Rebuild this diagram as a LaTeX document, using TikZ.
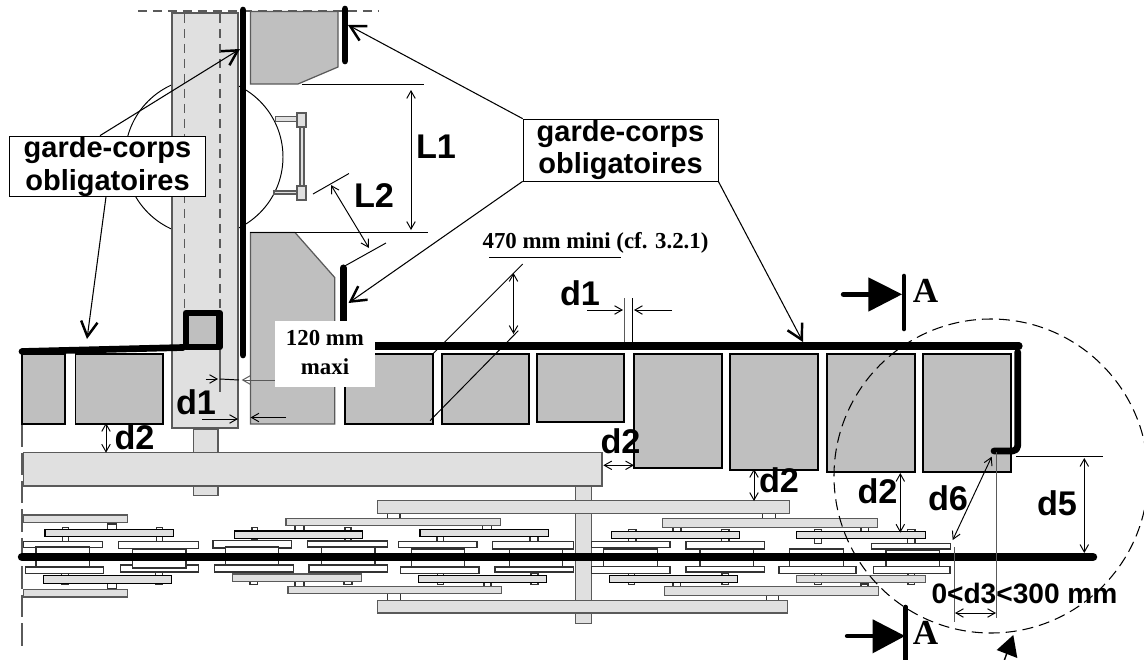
\documentclass[tikz,border=0pt]{standalone}
\usepackage{fontspec}
\setmainfont{Liberation Sans}
\newfontfamily\timesbold[BoldFont={Liberation Serif Bold}]{Liberation Serif}
\usepackage{xcolor}
\usetikzlibrary{arrows.meta,positioning}
\definecolor{blocgris}{HTML}{BFBFBF}
\definecolor{clairgris}{HTML}{E0E0E0}
\definecolor{traitgris}{HTML}{5A5A5A}
\tikzset{
    bloc/.style={draw=black, line width=1.1pt, fill=blocgris},
    quai/.style={draw=traitgris, line width=0.7pt, fill=blocgris},
    plateau/.style={draw=traitgris, line width=0.8pt, fill=clairgris},
    plateaunoir/.style={draw=black, line width=0.7pt, fill=clairgris},
    blanc/.style={draw=black!80, line width=0.7pt, fill=white},
    garde/.style={line width=3.8pt, line cap=round, line join=round},
    cote/.style={line width=0.55pt, <->},
    repere/.style={line width=0.55pt},
    renvoi/.style={line width=0.6pt, -{Straight Barb[length=3mm,width=3.3mm,line width=1.4pt]}},
    pointille/.style={dash pattern=on 0.18cm off 0.12cm},
    grand/.style={font=\fontsize{19.5}{22}\selectfont\bfseries, inner sep=0pt},
    cadre/.style={
        draw,
        fill=white,
        inner sep=0pt,
        align=center,
        font=\fontsize{16.5}{18.7}\selectfont\bfseries
    },
    serif/.style={font=\fontsize{13}{16.4}\timesbold\bfseries, inner sep=0pt, align=center},
    lettre/.style={font=\fontsize{20}{22}\timesbold\bfseries, inner sep=0pt}
}

\begin{document}
\begin{tikzpicture}[x=0.02cm, y=-0.02cm, >={Straight Barb[length=1.5mm,width=1.7mm]}]
    \clip (0,0) rectangle (1144,660);

    \draw[line width=0.55pt] (204,157) circle (79);
    \draw[traitgris, line width=0.7pt, pointille] (138,11) -- (378,11);
    \draw[traitgris, line width=0.8pt, dash pattern=on 0.45cm off 0.12cm] (22,424) -- (22,650);

    \draw[plateau] (172,13) rectangle (238,428);
    \draw[traitgris, line width=0.7pt, pointille] (184.5,14) -- (184.5,312);
    \draw[traitgris, line width=0.7pt, pointille] (220,14) -- (220,312);
    \draw[traitgris, line width=0.7pt] (220,349) -- (220,392);

    \draw[quai] (250.5,11.5) -- (338,11.5) -- (338,67) -- (298,84) -- (250.5,84) -- cycle;
    \draw[quai] (250.5,232.5) -- (295,232.5) -- (334.7,277.5) -- (334.7,424) -- (250.5,424) -- cycle;

    \draw[plateau, line width=0.6pt] (275.5,116.5) rectangle (297,121.5);
    \draw[plateau, line width=0.6pt] (274,191) rectangle (297,194);
    \draw[plateau, line width=0.6pt] (300,127) rectangle (304,186);
    \draw[plateau, line width=0.6pt] (297,113) rectangle (306,127);
    \draw[plateau, line width=0.6pt] (297,186) rectangle (306,200);

    \foreach \xa/\ya/\xb/\yb in {
        22/354/65/424, 75.5/354/163/424, 345/354/432.7/424, 441.7/354/528.7/424,
        537.3/354/624/422, 634/354/722/468.3, 730/354/818.3/470,
        827.3/354/914.7/472, 923.3/354/1010.7/472
    }
        \draw[bloc] (\xa,\ya) rectangle (\xb,\yb);

    \draw[plateau] (193.5,429.5) rectangle (218,495.5);
    \draw[plateau] (23.5,452.7) rectangle (602,486);

    \draw[plateau] (575.3,486) rectangle (591.7,623.5);

    \foreach \xa/\ya/\xb/\yb in {
        107.5/524/116.5/530, 62.5/527.5/68.5/542, 156.5/527.5/162.5/542,
        61.5/572/68.5/584.5, 155.5/572/162.5/584.5, 107.5/581.3/116.5/589,
        387.7/513/400/519, 295/525/304/531, 482.7/525/491.7/531,
        252/527.5/257.5/540, 345/527.5/351/541,
        437/536/443.7/542, 530/536/538/542,
        250/572/257.5/584.5, 344/572/352/584.5, 295/581/304/587,
        437.3/573/443.7/584.7, 531/573/538/584.7, 484/582/491/587, 387.7/593/400.3/601,
        762.7/513/775.7/519, 673/527/681/532, 861/527/868.7/532,
        628.7/529.5/636/541.7, 721.7/529.5/729/541.7,
        814.3/529.5/821.7/543.3, 907.7/529.5/915/543.3,
        628.7/573.7/634.7/584.7, 722/573.7/728.7/584.7,
        814.3/573.7/821.7/584.7, 908/573.7/914.7/584.7,
        673/581.5/680.7/587, 861/584/868/587, 766.3/595/778.7/601
    }
        \draw[blanc] (\xa,\ya) rectangle (\xb,\yb);

    \foreach \xa/\ya/\xb/\yb in {
        23.5/541.5/102.3/547.5, 118.3/541.5/198.7/548.5, 25.3/567/103.7/573.7, 120.3/565/198.7/572,
        213/540.7/291.3/548, 307.3/541/387.7/547, 214.7/565/293.3/572, 309/565/387.7/572,
        398.7/541.7/477/547.3, 492.7/541.7/573.3/549, 400.3/567/479/573.3, 495/567/573.3/572,
        591.7/541.7/670/547.7, 686/541.7/764.7/549, 871.7/543.3/950.3/549,
        591.7/566.7/670/573.7, 686/566.7/764.7/572, 779/566.7/856/573.7, 873.3/566.7/950/573.7,
        36/547/89.5/566.7, 132.7/549/186/568, 225.3/547/278.7/565, 321.7/547/375/565,
        411.3/549/464.7/566.7, 509.3/549/562.7/566.7,
        603.7/549/657.3/566.7, 700/549/753.7/566.7, 789.3/549/843.3/566.7, 886/550.7/939.7/566.7
    }
        \draw[blanc] (\xa,\ya) rectangle (\xb,\yb);

    \foreach \xa/\ya/\xb/\yb in {
        45/529.5/173.7/536.5, 420/529.3/548.7/536.7, 611.3/531.3/739.3/538.3, 796.7/531.3/925.3/538.3,
        43.3/575.5/171.7/583.7, 234.3/531/362.7/538.3, 418.3/575.3/546.7/582.7, 609.3/575.3/737.3/582.7
    }
        \draw[plateaunoir] (\xa,\ya) rectangle (\xb,\yb);

    \foreach \xa/\ya/\xb/\yb in {
        23.5/515/127.3/522.5, 23.5/589.5/127.3/597, 286/518.5/500.7/525.5, 288/586.5/501.7/593.3,
        232.3/574/361.3/581.3, 796.7/575.3/925.3/582.7,
        662.7/518.7/877.3/527.3, 664.7/586.5/878.7/595.3,
        377.3/500.7/789.3/513.5, 377.3/600.7/787.3/613
    }
        \draw[plateau] (\xa,\ya) rectangle (\xb,\yb);

    \draw[line width=4.8pt, line cap=round] (22,557) -- (1093,557);

    \draw[garde] (243,10) -- (243,355);
    \draw[garde] (345,9) -- (345,61);
    \draw[garde, line width=4pt] (343.3,268) -- (343.3,330);
    \draw[garde] (22,351.5) -- (183,347.5);
    \draw[quai, draw=black, line width=3.9pt, line join=round] (186,313) rectangle (219.5,347);
    \draw[garde, line width=4.1pt] (375,346) -- (1019,346);
    \draw[garde, rounded corners=0.1cm] (1017.7,352) -- (1017.7,451) -- (994,451);

    \draw[repere] (302,84.5) -- (424,84.5);
    \draw[repere] (250,232) -- (428,232);
    \draw[cote] (411,90) -- (411,230);
    \draw[repere] (313,194) -- (349,173.5);
    \draw[repere] (343,267) -- (386,243);
    \draw[cote] (331,185) -- (369,248);

    \draw[repere] (489,257.3) -- (620.7,257.3);
    \draw[repere] (431.7,355) -- (522.7,264);
    \draw[repere] (430,420.7) -- (518.3,330.7);
    \draw[cote] (513.5,273) -- (513.5,334);

    \draw[traitgris, repere] (624,298) -- (624,342);
    \draw[repere] (632.3,298) -- (632.3,342);
    \draw[repere, ->] (587.3,310) -- (623,310);
    \draw[repere, ->] (672,310) -- (634,310);

    \draw[repere, ->] (205.7,379) -- (218,379);
    \draw[repere] (220,379) -- (239,380);
    \draw[traitgris, repere, ->] (280,380) -- (241.7,380);
    \draw[repere, ->] (202,419) -- (238,419);
    \draw[repere, ->] (286,417.5) -- (250.5,417.5);

    \draw[cote] (106,423) -- (106,452.7);
    \draw[cote] (603.3,465.3) -- (634,465.3);
    \draw[cote] (754,469) -- (754,501);
    \draw[cote] (900.3,473) -- (900.3,532.7);
    \draw[cote] (991.7,456.7) -- (952.7,540);
    \draw[cote] (1084.3,458) -- (1084.3,553);
    \draw[repere] (1016,456.3) -- (1103,456.3);
    \draw[traitgris, repere] (996.3,452) -- (996.3,618);
    \draw[traitgris, repere] (954,547) -- (954,621.7);
    \draw[cote] (955,613) -- (996,613);

    \draw[line width=0.6pt, dash pattern=on 0.22cm off 0.12cm] (991,476) circle (157);

    \draw[line width=2.8pt, line cap=round] (843.3,294.3) -- (870,294.3);
    \fill (868.3,277.3) -- (868.3,311.7) -- (902,294.3) -- cycle;
    \draw[line width=2.6pt, line cap=round] (904,276) -- (904,329);
    \draw[line width=2.8pt, line cap=round] (847.3,636) -- (875,636);
    \fill (872.7,619.3) -- (872.7,653.3) -- (905,636) -- cycle;
    \draw[line width=2.6pt, line cap=round] (905.7,607) -- (905.7,662);
    \fill (996.7,650) -- (1013.3,635) -- (1017.3,658) -- cycle;
    \draw[line width=0.8pt] (1008,650) -- (1003,664);

    \node (gardegauche) [
        cadre,
        minimum width=3.92cm,
        minimum height=1.21cm
    ] at (107.5,166.2)
    {
        garde-corps\\obligatoires
    };

    \node (gardedroite) [
        cadre,
        minimum width=3.9cm,
        minimum height=1.24cm
    ] at (620.5,150)
    {
        garde-corps\\obligatoires
    };

    \coordinate (pointehaut) at (240,49);
    \coordinate (pointerail) at (87,339);
    \coordinate (pointemur) at (348,25);
    \coordinate (pointebas) at (348.5,303);
    \coordinate (pointequai) at (803,342);

    \draw[renvoi] ([xshift=-0.15cm]gardegauche.north) -- (pointehaut);
    \draw[renvoi] ([xshift=-0.03cm]gardegauche.south) -- (pointerail);
    \draw[renvoi] (gardedroite.north west) -- (pointemur);
    \draw[renvoi] (gardedroite.south west) -- (pointebas);
    \draw[renvoi] (gardedroite.south east) -- (pointequai);

    \node (maxi) [
        fill=white,
        serif,
        minimum width=2cm,
        minimum height=1.32cm,
        text depth=0.08cm
    ] at (325,354)
    {
        120 mm\\maxi
    };

    \node (mini) [serif] at (595.5,242.7) {470 mm mini (cf. 3.2.1)};

    \node (longl) [grand] at (436,147) {L1};
    \node (longm) [grand] at (374,196) {L2};
    \node (ecarta) [grand] at (196,402) {d1};
    \node (ecartb) [grand] at (580,293) {d1};
    \node (jeua) [grand] at (134.5,437) {d2};
    \node (jeub) [grand] at (620.5,441) {d2};
    \node (jeuc) [grand] at (779,480) {d2};
    \node (jeud) [grand] at (877.5,491) {d2};
    \node (jeue) [grand] at (948,498) {d6};
    \node (jeuf) [grand] at (1057,503) {d5};
    \node (jeug) [grand, font=\fontsize{16}{20}\selectfont\bfseries] at (1024.5,593) {0<d3<300 mm};
    \node (coupea) [lettre] at (925.5,290.7) {A};
    \node (coupeb) [lettre] at (925.5,632.7) {A};
\end{tikzpicture}
\end{document}
